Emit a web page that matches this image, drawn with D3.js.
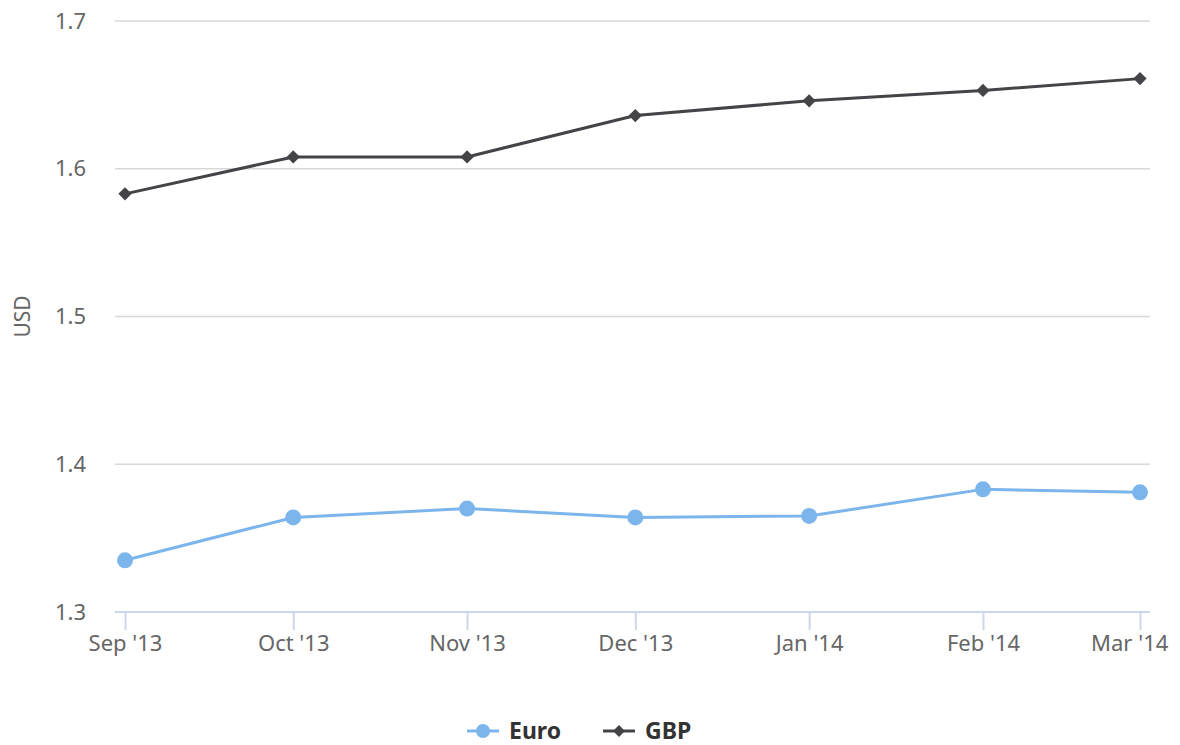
<!DOCTYPE html>
<head>
<meta charset="utf-8">
<title></title>
<style>
body { margin: 0; background: #fff; }
text { font-family: "Noto Sans", sans-serif; }
.grid line { stroke: #d8d8d8; stroke-width: 1.5px; }
</style>
</head>
<body>
<script src="https://d3js.org/d3.v7.min.js"></script>
<script>

// months (first of month) and exchange rates in USD
var months = ["2013-09-01", "2013-10-01", "2013-11-01", "2013-12-01", "2014-01-01", "2014-02-01", "2014-03-01"];
var euro = [1.335, 1.364, 1.370, 1.364, 1.365, 1.383, 1.381];
var gbp = [1.583, 1.608, 1.608, 1.636, 1.646, 1.653, 1.661];
var yTicks = [1.3, 1.4, 1.5, 1.6, 1.7];
var seriesNames = ["Euro", "GBP"];
var seriesColors = ["#7cb5ec", "#434348"];

var width = 1180,
    height = 745;

var parse = d3.timeParse("%Y-%m-%d");
var dates = months.map(parse);

var svg = d3.select("body").append("svg")
    .attr("width", width)
    .attr("height", height);

var x = d3.scaleTime()
    .domain(d3.extent(dates))
    .range([125, 1140]);

var y = d3.scaleLinear()
    .domain([1.3, 1.7])
    .range([612, 21]);

// horizontal grid
svg.append("g")
    .attr("class", "grid")
    .selectAll("line")
    .data(yTicks.slice(1))
    .enter().append("line")
    .attr("x1", 115)
    .attr("x2", 1150)
    .attr("y1", function(d) { return y(d); })
    .attr("y2", function(d) { return y(d); });

// y labels
svg.append("g")
    .selectAll("text")
    .data(yTicks)
    .enter().append("text")
    .attr("x", 86)
    .attr("y", function(d) { return y(d); })
    .attr("dy", "0.35em")
    .attr("text-anchor", "end")
    .style("font-size", "22px")
    .style("fill", "#666")
    .text(function(d) { return d3.format(".1f")(d); });

// y title
svg.append("text")
    .attr("transform", "translate(30," + y(1.5) + ") rotate(-90)")
    .attr("text-anchor", "middle")
    .style("font-size", "21px")
    .style("fill", "#666")
    .text("USD");

// x axis
var xAxis = d3.axisBottom(x)
    .tickValues(dates)
    .tickSize(18)
    .tickFormat(d3.timeFormat("%b '%y"));

var gx = svg.append("g")
    .attr("transform", "translate(0," + y(1.3) + ")")
    .call(xAxis);

gx.select(".domain")
    .attr("d", "M115,0H1150")
    .style("stroke", "#ccd6eb")
    .style("stroke-width", 2);
gx.selectAll(".tick line")
    .style("stroke", "#ccd6eb")
    .style("stroke-width", 2);
gx.selectAll(".tick text")
    .attr("y", 39)
    .attr("dy", 0)
    .style("font-size", "22px")
    .style("fill", "#666")
    .style("font-family", "'Noto Sans', sans-serif");

// keep last label inside chart
gx.selectAll(".tick text").each(function(d) {
    var bb = this.getBBox();
    var right = x(d) + bb.width / 2;
    if (right > 1168) d3.select(this).attr("x", 1168 - right);
});

var series = [euro, gbp];

var line = d3.line()
    .x(function(d, i) { return x(dates[i]); })
    .y(function(d) { return y(d); });

series.forEach(function(vals, s) {
    svg.append("path")
        .datum(vals)
        .attr("d", line)
        .style("fill", "none")
        .style("stroke", seriesColors[s])
        .style("stroke-width", 3)
        .style("stroke-linejoin", "round");
});

// markers
svg.append("g")
    .selectAll("circle")
    .data(euro)
    .enter().append("circle")
    .attr("cx", function(d, i) { return x(dates[i]); })
    .attr("cy", function(d) { return y(d); })
    .attr("r", 8)
    .style("fill", seriesColors[0]);

var diamond = d3.symbol().type(d3.symbolDiamond2).size(112);
svg.append("g")
    .selectAll("path")
    .data(gbp)
    .enter().append("path")
    .attr("d", diamond)
    .attr("transform", function(d, i) {
        return "translate(" + x(dates[i]) + "," + y(d) + ")";
    })
    .style("fill", seriesColors[1]);

// legend
var legendY = 731;
var legendX = [467, 603];
seriesNames.forEach(function(name, s) {
    var g = svg.append("g").attr("transform", "translate(" + legendX[s] + "," + legendY + ")");
    g.append("line")
        .attr("x1", 0).attr("x2", 32)
        .style("stroke", seriesColors[s])
        .style("stroke-width", 3);
    if (s == 0) {
        g.append("circle").attr("cx", 16).attr("r", 7).style("fill", seriesColors[s]);
    } else {
        g.append("path").attr("d", d3.symbol().type(d3.symbolDiamond2).size(90))
            .attr("transform", "translate(16,0)")
            .style("fill", seriesColors[s]);
    }
    g.append("text")
        .attr("x", 42)
        .attr("dy", "0.35em")
        .style("font-size", "23px")
        .style("font-weight", "bold")
        .style("fill", "#333")
        .text(name);
});

</script>
</body>
</html>
